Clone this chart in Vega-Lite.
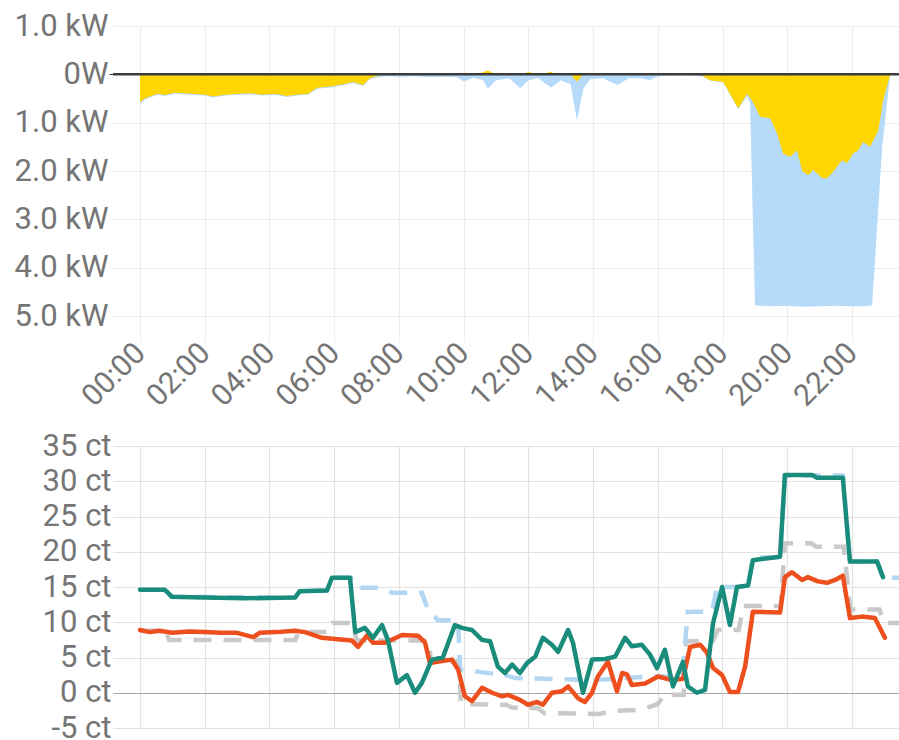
{
  "$schema": "https://vega.github.io/schema/vega-lite/v6.json",
  "padding": {"left": 0, "top": 10, "right": 0, "bottom": 0},
  "background": "white",
  "spacing": 18,
  "config": {
    "view": {"stroke": null},
    "font": "Roboto",
    "axis": {"labelFont": "Roboto", "labelColor": "#757575", "labelFontSize": 31, "domain": false, "title": null, "gridColor": "#ececec", "gridWidth": 1.2, "labelOverlap": false, "labelFlush": false}
  },
  "datasets": {
    "power": [
      {"h": 0.0, "s": "Netz", "v": -0.62}, {"h": 0.15, "s": "Netz", "v": -0.52}, {"h": 0.3, "s": "Netz", "v": -0.48}, {"h": 0.55, "s": "Netz", "v": -0.42}, {"h": 0.77, "s": "Netz", "v": -0.45}, {"h": 1.08, "s": "Netz", "v": -0.4}, {"h": 1.55, "s": "Netz", "v": -0.42}, {"h": 2.0, "s": "Netz", "v": -0.44}, {"h": 2.25, "s": "Netz", "v": -0.48}, {"h": 2.63, "s": "Netz", "v": -0.44}, {"h": 3.1, "s": "Netz", "v": -0.42}, {"h": 3.4, "s": "Netz", "v": -0.41}, {"h": 3.77, "s": "Netz", "v": -0.44}, {"h": 4.17, "s": "Netz", "v": -0.42}, {"h": 4.54, "s": "Netz", "v": -0.47}, {"h": 4.85, "s": "Netz", "v": -0.44}, {"h": 5.2, "s": "Netz", "v": -0.42}, {"h": 5.47, "s": "Netz", "v": -0.3}, {"h": 5.87, "s": "Netz", "v": -0.27}, {"h": 6.33, "s": "Netz", "v": -0.22}, {"h": 6.58, "s": "Netz", "v": -0.18}, {"h": 6.9, "s": "Netz", "v": -0.24}, {"h": 7.1, "s": "Netz", "v": -0.1}, {"h": 7.4, "s": "Netz", "v": -0.05}, {"h": 7.7, "s": "Netz", "v": -0.04}, {"h": 8.0, "s": "Netz", "v": -0.05}, {"h": 8.5, "s": "Netz", "v": -0.04}, {"h": 9.0, "s": "Netz", "v": -0.06}, {"h": 9.5, "s": "Netz", "v": -0.05}, {"h": 9.8, "s": "Netz", "v": -0.06}, {"h": 10.0, "s": "Netz", "v": -0.15}, {"h": 10.3, "s": "Netz", "v": -0.07}, {"h": 10.6, "s": "Netz", "v": -0.12}, {"h": 10.75, "s": "Netz", "v": -0.3}, {"h": 11.0, "s": "Netz", "v": -0.12}, {"h": 11.4, "s": "Netz", "v": -0.08}, {"h": 11.75, "s": "Netz", "v": -0.29}, {"h": 12.0, "s": "Netz", "v": -0.12}, {"h": 12.3, "s": "Netz", "v": -0.08}, {"h": 12.7, "s": "Netz", "v": -0.27}, {"h": 13.0, "s": "Netz", "v": -0.12}, {"h": 13.3, "s": "Netz", "v": -0.2}, {"h": 13.5, "s": "Netz", "v": -0.95}, {"h": 13.7, "s": "Netz", "v": -0.3}, {"h": 13.9, "s": "Netz", "v": -0.1}, {"h": 14.3, "s": "Netz", "v": -0.08}, {"h": 14.75, "s": "Netz", "v": -0.22}, {"h": 15.1, "s": "Netz", "v": -0.08}, {"h": 15.5, "s": "Netz", "v": -0.08}, {"h": 15.75, "s": "Netz", "v": -0.12}, {"h": 16.0, "s": "Netz", "v": -0.04}, {"h": 16.5, "s": "Netz", "v": -0.02}, {"h": 17.0, "s": "Netz", "v": -0.02}, {"h": 17.4, "s": "Netz", "v": -0.05}, {"h": 17.61, "s": "Netz", "v": -0.13}, {"h": 18.02, "s": "Netz", "v": -0.17}, {"h": 18.48, "s": "Netz", "v": -0.72}, {"h": 18.76, "s": "Netz", "v": -0.45}, {"h": 18.85, "s": "Netz", "v": -0.6}, {"h": 19.0, "s": "Netz", "v": -4.78}, {"h": 19.5, "s": "Netz", "v": -4.8}, {"h": 20.0, "s": "Netz", "v": -4.79}, {"h": 20.5, "s": "Netz", "v": -4.81}, {"h": 21.0, "s": "Netz", "v": -4.8}, {"h": 21.5, "s": "Netz", "v": -4.79}, {"h": 22.0, "s": "Netz", "v": -4.8}, {"h": 22.4, "s": "Netz", "v": -4.8}, {"h": 22.62, "s": "Netz", "v": -4.78}, {"h": 22.93, "s": "Netz", "v": -1.5}, {"h": 23.18, "s": "Netz", "v": 0},
      {"h": 0.0, "s": "Solar", "v": -0.58}, {"h": 0.15, "s": "Solar", "v": -0.5}, {"h": 0.3, "s": "Solar", "v": -0.46}, {"h": 0.55, "s": "Solar", "v": -0.4}, {"h": 0.77, "s": "Solar", "v": -0.43}, {"h": 1.08, "s": "Solar", "v": -0.38}, {"h": 1.55, "s": "Solar", "v": -0.4}, {"h": 2.0, "s": "Solar", "v": -0.42}, {"h": 2.25, "s": "Solar", "v": -0.46}, {"h": 2.63, "s": "Solar", "v": -0.42}, {"h": 3.1, "s": "Solar", "v": -0.4}, {"h": 3.4, "s": "Solar", "v": -0.39}, {"h": 3.77, "s": "Solar", "v": -0.42}, {"h": 4.17, "s": "Solar", "v": -0.4}, {"h": 4.54, "s": "Solar", "v": -0.45}, {"h": 4.85, "s": "Solar", "v": -0.42}, {"h": 5.2, "s": "Solar", "v": -0.4}, {"h": 5.47, "s": "Solar", "v": -0.28}, {"h": 5.87, "s": "Solar", "v": -0.25}, {"h": 6.33, "s": "Solar", "v": -0.2}, {"h": 6.58, "s": "Solar", "v": -0.16}, {"h": 6.9, "s": "Solar", "v": -0.22}, {"h": 7.1, "s": "Solar", "v": -0.08}, {"h": 7.4, "s": "Solar", "v": -0.02}, {"h": 7.7, "s": "Solar", "v": 0}, {"h": 10.4, "s": "Solar", "v": 0}, {"h": 10.75, "s": "Solar", "v": 0.08}, {"h": 11.0, "s": "Solar", "v": 0}, {"h": 11.8, "s": "Solar", "v": 0}, {"h": 12.0, "s": "Solar", "v": 0.05}, {"h": 12.3, "s": "Solar", "v": 0}, {"h": 12.5, "s": "Solar", "v": 0}, {"h": 12.65, "s": "Solar", "v": 0.06}, {"h": 12.9, "s": "Solar", "v": 0}, {"h": 13.3, "s": "Solar", "v": 0}, {"h": 13.5, "s": "Solar", "v": -0.15}, {"h": 13.7, "s": "Solar", "v": 0}, {"h": 14.6, "s": "Solar", "v": 0}, {"h": 14.9, "s": "Solar", "v": 0.03}, {"h": 15.2, "s": "Solar", "v": 0}, {"h": 17.3, "s": "Solar", "v": 0}, {"h": 17.61, "s": "Solar", "v": -0.12}, {"h": 18.02, "s": "Solar", "v": -0.16}, {"h": 18.48, "s": "Solar", "v": -0.7}, {"h": 18.76, "s": "Solar", "v": -0.4}, {"h": 18.91, "s": "Solar", "v": -0.54}, {"h": 19.16, "s": "Solar", "v": -0.88}, {"h": 19.47, "s": "Solar", "v": -0.91}, {"h": 19.68, "s": "Solar", "v": -1.22}, {"h": 19.87, "s": "Solar", "v": -1.64}, {"h": 20.09, "s": "Solar", "v": -1.71}, {"h": 20.3, "s": "Solar", "v": -1.57}, {"h": 20.46, "s": "Solar", "v": -2.0}, {"h": 20.64, "s": "Solar", "v": -2.09}, {"h": 20.8, "s": "Solar", "v": -1.98}, {"h": 21.08, "s": "Solar", "v": -2.15}, {"h": 21.23, "s": "Solar", "v": -2.15}, {"h": 21.41, "s": "Solar", "v": -2.02}, {"h": 21.69, "s": "Solar", "v": -1.78}, {"h": 21.85, "s": "Solar", "v": -1.84}, {"h": 22.03, "s": "Solar", "v": -1.64}, {"h": 22.19, "s": "Solar", "v": -1.57}, {"h": 22.34, "s": "Solar", "v": -1.4}, {"h": 22.56, "s": "Solar", "v": -1.5}, {"h": 22.81, "s": "Solar", "v": -1.16}, {"h": 22.96, "s": "Solar", "v": -0.54}, {"h": 23.18, "s": "Solar", "v": 0}
    ],
    "price": [
      {"h": 0.0, "s": "teal", "v": 14.6}, {"h": 0.77, "s": "teal", "v": 14.6}, {"h": 0.99, "s": "teal", "v": 13.6}, {"h": 2.0, "s": "teal", "v": 13.5}, {"h": 3.24, "s": "teal", "v": 13.4}, {"h": 4.79, "s": "teal", "v": 13.5}, {"h": 4.94, "s": "teal", "v": 14.4}, {"h": 5.78, "s": "teal", "v": 14.5}, {"h": 5.93, "s": "teal", "v": 16.3}, {"h": 6.49, "s": "teal", "v": 16.3}, {"h": 6.65, "s": "teal", "v": 8.6}, {"h": 6.95, "s": "teal", "v": 9.2}, {"h": 7.2, "s": "teal", "v": 7.8}, {"h": 7.48, "s": "teal", "v": 9.6}, {"h": 7.66, "s": "teal", "v": 7.5}, {"h": 7.94, "s": "teal", "v": 1.4}, {"h": 8.25, "s": "teal", "v": 2.5}, {"h": 8.5, "s": "teal", "v": 0.0}, {"h": 8.71, "s": "teal", "v": 1.4}, {"h": 9.02, "s": "teal", "v": 4.7}, {"h": 9.36, "s": "teal", "v": 5.0}, {"h": 9.73, "s": "teal", "v": 9.6}, {"h": 9.95, "s": "teal", "v": 9.2}, {"h": 10.26, "s": "teal", "v": 8.9}, {"h": 10.57, "s": "teal", "v": 7.5}, {"h": 10.82, "s": "teal", "v": 7.3}, {"h": 11.06, "s": "teal", "v": 3.7}, {"h": 11.28, "s": "teal", "v": 2.8}, {"h": 11.5, "s": "teal", "v": 4.0}, {"h": 11.74, "s": "teal", "v": 2.8}, {"h": 11.96, "s": "teal", "v": 4.2}, {"h": 12.21, "s": "teal", "v": 5.1}, {"h": 12.45, "s": "teal", "v": 7.8}, {"h": 12.73, "s": "teal", "v": 6.8}, {"h": 12.92, "s": "teal", "v": 5.8}, {"h": 13.23, "s": "teal", "v": 8.9}, {"h": 13.38, "s": "teal", "v": 7.1}, {"h": 13.69, "s": "teal", "v": 0.0}, {"h": 13.97, "s": "teal", "v": 4.7}, {"h": 14.37, "s": "teal", "v": 4.8}, {"h": 14.68, "s": "teal", "v": 5.1}, {"h": 14.99, "s": "teal", "v": 7.8}, {"h": 15.2, "s": "teal", "v": 6.6}, {"h": 15.51, "s": "teal", "v": 6.8}, {"h": 15.76, "s": "teal", "v": 5.4}, {"h": 15.98, "s": "teal", "v": 3.5}, {"h": 16.22, "s": "teal", "v": 6.1}, {"h": 16.47, "s": "teal", "v": 0.9}, {"h": 16.78, "s": "teal", "v": 4.4}, {"h": 16.93, "s": "teal", "v": 0.9}, {"h": 17.21, "s": "teal", "v": 0.0}, {"h": 17.46, "s": "teal", "v": 0.4}, {"h": 17.71, "s": "teal", "v": 9.9}, {"h": 17.99, "s": "teal", "v": 15.0}, {"h": 18.23, "s": "teal", "v": 9.6}, {"h": 18.45, "s": "teal", "v": 15.0}, {"h": 18.79, "s": "teal", "v": 15.2}, {"h": 18.94, "s": "teal", "v": 18.8}, {"h": 19.78, "s": "teal", "v": 19.3}, {"h": 19.93, "s": "teal", "v": 30.9}, {"h": 20.77, "s": "teal", "v": 30.9}, {"h": 20.92, "s": "teal", "v": 30.5}, {"h": 21.72, "s": "teal", "v": 30.5}, {"h": 21.94, "s": "teal", "v": 18.6}, {"h": 22.78, "s": "teal", "v": 18.6}, {"h": 22.96, "s": "teal", "v": 16.4},
      {"h": 0.0, "s": "orange", "v": 8.9}, {"h": 0.3, "s": "orange", "v": 8.6}, {"h": 0.6, "s": "orange", "v": 8.8}, {"h": 1.0, "s": "orange", "v": 8.5}, {"h": 1.5, "s": "orange", "v": 8.7}, {"h": 2.0, "s": "orange", "v": 8.6}, {"h": 2.5, "s": "orange", "v": 8.5}, {"h": 3.0, "s": "orange", "v": 8.5}, {"h": 3.5, "s": "orange", "v": 7.9}, {"h": 3.7, "s": "orange", "v": 8.5}, {"h": 4.2, "s": "orange", "v": 8.6}, {"h": 4.8, "s": "orange", "v": 8.8}, {"h": 5.1, "s": "orange", "v": 8.6}, {"h": 5.62, "s": "orange", "v": 7.8}, {"h": 6.12, "s": "orange", "v": 7.6}, {"h": 6.55, "s": "orange", "v": 7.4}, {"h": 6.74, "s": "orange", "v": 6.5}, {"h": 7.01, "s": "orange", "v": 8.1}, {"h": 7.2, "s": "orange", "v": 7.1}, {"h": 7.57, "s": "orange", "v": 7.1}, {"h": 8.1, "s": "orange", "v": 8.2}, {"h": 8.59, "s": "orange", "v": 8.1}, {"h": 8.81, "s": "orange", "v": 7.1}, {"h": 8.96, "s": "orange", "v": 4.2}, {"h": 9.33, "s": "orange", "v": 4.5}, {"h": 9.64, "s": "orange", "v": 4.7}, {"h": 9.83, "s": "orange", "v": 3.3}, {"h": 10.04, "s": "orange", "v": -0.5}, {"h": 10.26, "s": "orange", "v": -1.2}, {"h": 10.57, "s": "orange", "v": 0.7}, {"h": 10.88, "s": "orange", "v": 0.0}, {"h": 11.19, "s": "orange", "v": -0.5}, {"h": 11.37, "s": "orange", "v": -0.3}, {"h": 11.74, "s": "orange", "v": -1.0}, {"h": 11.99, "s": "orange", "v": -1.7}, {"h": 12.27, "s": "orange", "v": -1.3}, {"h": 12.45, "s": "orange", "v": -1.7}, {"h": 12.73, "s": "orange", "v": 0.0}, {"h": 13.04, "s": "orange", "v": 0.2}, {"h": 13.23, "s": "orange", "v": 0.9}, {"h": 13.54, "s": "orange", "v": -0.8}, {"h": 13.75, "s": "orange", "v": -1.3}, {"h": 13.97, "s": "orange", "v": 0.0}, {"h": 14.15, "s": "orange", "v": 2.3}, {"h": 14.46, "s": "orange", "v": 4.4}, {"h": 14.74, "s": "orange", "v": 0.2}, {"h": 14.9, "s": "orange", "v": 2.8}, {"h": 15.05, "s": "orange", "v": 2.6}, {"h": 15.2, "s": "orange", "v": 1.1}, {"h": 15.61, "s": "orange", "v": 1.3}, {"h": 16.01, "s": "orange", "v": 2.3}, {"h": 16.44, "s": "orange", "v": 1.8}, {"h": 16.78, "s": "orange", "v": 2.0}, {"h": 17.0, "s": "orange", "v": 6.5}, {"h": 17.31, "s": "orange", "v": 6.8}, {"h": 17.52, "s": "orange", "v": 5.7}, {"h": 17.71, "s": "orange", "v": 3.5}, {"h": 17.99, "s": "orange", "v": 2.5}, {"h": 18.23, "s": "orange", "v": 0.1}, {"h": 18.48, "s": "orange", "v": 0.1}, {"h": 18.7, "s": "orange", "v": 3.7}, {"h": 18.94, "s": "orange", "v": 11.5}, {"h": 19.78, "s": "orange", "v": 11.4}, {"h": 19.93, "s": "orange", "v": 16.4}, {"h": 20.15, "s": "orange", "v": 17.1}, {"h": 20.46, "s": "orange", "v": 16.0}, {"h": 20.64, "s": "orange", "v": 16.4}, {"h": 20.95, "s": "orange", "v": 15.8}, {"h": 21.23, "s": "orange", "v": 15.6}, {"h": 21.48, "s": "orange", "v": 16.0}, {"h": 21.72, "s": "orange", "v": 16.6}, {"h": 21.94, "s": "orange", "v": 10.6}, {"h": 22.31, "s": "orange", "v": 10.8}, {"h": 22.71, "s": "orange", "v": 10.6}, {"h": 23.02, "s": "orange", "v": 7.8},
      {"h": 0.0, "s": "lightblue", "v": 14.6}, {"h": 0.77, "s": "lightblue", "v": 14.6}, {"h": 0.99, "s": "lightblue", "v": 13.6}, {"h": 4.79, "s": "lightblue", "v": 13.5}, {"h": 4.94, "s": "lightblue", "v": 14.4}, {"h": 5.78, "s": "lightblue", "v": 14.5}, {"h": 5.93, "s": "lightblue", "v": 16.3}, {"h": 6.65, "s": "lightblue", "v": 16.3}, {"h": 6.86, "s": "lightblue", "v": 14.9}, {"h": 7.35, "s": "lightblue", "v": 14.9}, {"h": 7.79, "s": "lightblue", "v": 14.2}, {"h": 8.71, "s": "lightblue", "v": 14.2}, {"h": 8.9, "s": "lightblue", "v": 11.8}, {"h": 9.21, "s": "lightblue", "v": 10.3}, {"h": 9.83, "s": "lightblue", "v": 10.3}, {"h": 9.89, "s": "lightblue", "v": 3.3}, {"h": 11.28, "s": "lightblue", "v": 2.5}, {"h": 11.59, "s": "lightblue", "v": 2.1}, {"h": 14.06, "s": "lightblue", "v": 1.8}, {"h": 15.7, "s": "lightblue", "v": 2.3}, {"h": 16.75, "s": "lightblue", "v": 2.3}, {"h": 16.93, "s": "lightblue", "v": 11.5}, {"h": 17.68, "s": "lightblue", "v": 11.5}, {"h": 17.83, "s": "lightblue", "v": 15.0}, {"h": 18.79, "s": "lightblue", "v": 15.0}, {"h": 18.94, "s": "lightblue", "v": 19.2}, {"h": 19.78, "s": "lightblue", "v": 19.2}, {"h": 19.93, "s": "lightblue", "v": 30.8}, {"h": 21.72, "s": "lightblue", "v": 30.8}, {"h": 21.94, "s": "lightblue", "v": 18.6}, {"h": 22.78, "s": "lightblue", "v": 18.6}, {"h": 22.96, "s": "lightblue", "v": 16.3}, {"h": 23.6, "s": "lightblue", "v": 16.3},
      {"h": 0.0, "s": "gray", "v": 8.8}, {"h": 0.8, "s": "gray", "v": 8.8}, {"h": 0.9, "s": "gray", "v": 7.5}, {"h": 4.8, "s": "gray", "v": 7.5}, {"h": 4.9, "s": "gray", "v": 8.6}, {"h": 5.85, "s": "gray", "v": 8.6}, {"h": 5.95, "s": "gray", "v": 9.9}, {"h": 6.55, "s": "gray", "v": 9.9}, {"h": 6.7, "s": "gray", "v": 7.4}, {"h": 8.9, "s": "gray", "v": 7.4}, {"h": 9.0, "s": "gray", "v": 4.4}, {"h": 9.85, "s": "gray", "v": 4.4}, {"h": 9.92, "s": "gray", "v": -1.6}, {"h": 11.3, "s": "gray", "v": -1.7}, {"h": 11.5, "s": "gray", "v": -2.1}, {"h": 12.3, "s": "gray", "v": -2.2}, {"h": 12.5, "s": "gray", "v": -2.9}, {"h": 14.2, "s": "gray", "v": -3.0}, {"h": 14.6, "s": "gray", "v": -2.6}, {"h": 15.5, "s": "gray", "v": -2.4}, {"h": 16.0, "s": "gray", "v": -1.6}, {"h": 16.2, "s": "gray", "v": -0.3}, {"h": 16.8, "s": "gray", "v": -0.3}, {"h": 16.88, "s": "gray", "v": 7.3}, {"h": 17.7, "s": "gray", "v": 7.3}, {"h": 17.85, "s": "gray", "v": 8.9}, {"h": 18.5, "s": "gray", "v": 8.9}, {"h": 18.65, "s": "gray", "v": 12.3}, {"h": 19.8, "s": "gray", "v": 12.3}, {"h": 19.93, "s": "gray", "v": 21.2}, {"h": 20.75, "s": "gray", "v": 21.2}, {"h": 20.9, "s": "gray", "v": 20.7}, {"h": 21.75, "s": "gray", "v": 20.7}, {"h": 21.95, "s": "gray", "v": 11.8}, {"h": 22.85, "s": "gray", "v": 11.8}, {"h": 23.0, "s": "gray", "v": 9.9}, {"h": 23.6, "s": "gray", "v": 9.9}
    ],
    "zero": [{"v": 0}]
  },
  "vconcat": [
    {
      "width": 786,
      "height": 290,
      "layer": [
        {
          "data": {"name": "power"},
          "transform": [{"filter": "datum.s == 'Netz'"}],
          "mark": {"type": "area", "color": "#b5dafa", "opacity": 1},
          "encoding": {
            "x": {"field": "h", "type": "quantitative", "scale": {"domain": [-0.834, 23.45], "nice": false, "zero": false},
              "axis": {"values": [0, 2, 4, 6, 8, 10, 12, 14, 16, 18, 20, 22], "labelExpr": "(datum.value < 10 ? '0' : '') + datum.value + ':00'", "labelAngle": -45, "labelAlign": "right", "labelBaseline": "middle", "labelFontSize": 30, "tickSize": 26, "tickColor": "#eeeeee", "labelPadding": 6, "grid": true}},
            "y": {"field": "v", "type": "quantitative", "scale": {"domain": [-5, 1], "nice": false},
              "axis": {"values": [-5, -4, -3, -2, -1, 0, 1], "labelExpr": "datum.value == 0 ? '0W' : format(abs(datum.value), '.1f') + ' kW'", "tickSize": 4, "tickColor": {"condition": {"test": "datum.value == 0", "value": "#3c3c3c"}, "value": "#ffffff"}, "labelPadding": 1, "minExtent": 113, "maxExtent": 113}}
          }
        },
        {
          "data": {"name": "power"},
          "transform": [{"filter": "datum.s == 'Solar'"}],
          "mark": {"type": "area", "color": "#ffd600", "opacity": 1},
          "encoding": {
            "x": {"field": "h", "type": "quantitative"},
            "y": {"field": "v", "type": "quantitative"}
          }
        },
        {
          "data": {"name": "zero"},
          "mark": {"type": "rule", "color": "#3c3c3c", "strokeWidth": 2.5},
          "encoding": {"y": {"field": "v", "type": "quantitative"}}
        }
      ]
    },
    {
      "width": 791,
      "height": 282,
      "data": {"name": "price"},
      "encoding": {
        "x": {"field": "h", "type": "quantitative", "scale": {"domain": [-0.834, 23.61], "nice": false, "zero": false},
          "axis": {"values": [0, 2, 4, 6, 8, 10, 12, 14, 16, 18, 20, 22], "labels": false, "ticks": false, "grid": true, "gridColor": "#e2e2e2"}},
        "y": {"field": "v", "type": "quantitative", "scale": {"domain": [-5, 35], "nice": false},
          "axis": {"values": [-5, 0, 5, 10, 15, 20, 25, 30, 35], "labelExpr": "datum.value + ' ct'", "ticks": false, "labelPadding": 2, "minExtent": 108, "maxExtent": 108,
            "gridColor": {"condition": {"test": "datum.value == 0", "value": "#a8a8a8"}, "value": "#e2e2e2"}}}
      },
      "layer": [
        {"transform": [{"filter": "datum.s == 'gray'"}], "mark": {"type": "line", "color": "#c9c9c9", "strokeWidth": 4.5, "strokeDash": [18, 12]}},
        {"transform": [{"filter": "datum.s == 'lightblue'"}], "mark": {"type": "line", "color": "#b3d6f3", "strokeWidth": 4.5, "strokeDash": [18, 12]}},
        {"transform": [{"filter": "datum.s == 'orange'"}], "mark": {"type": "line", "color": "#ee4f1e", "strokeWidth": 4.5, "strokeJoin": "round", "strokeCap": "round"}},
        {"transform": [{"filter": "datum.s == 'teal'"}], "mark": {"type": "line", "color": "#1a8c7c", "strokeWidth": 4.5, "strokeJoin": "round", "strokeCap": "round"}}
      ]
    }
  ]
}
